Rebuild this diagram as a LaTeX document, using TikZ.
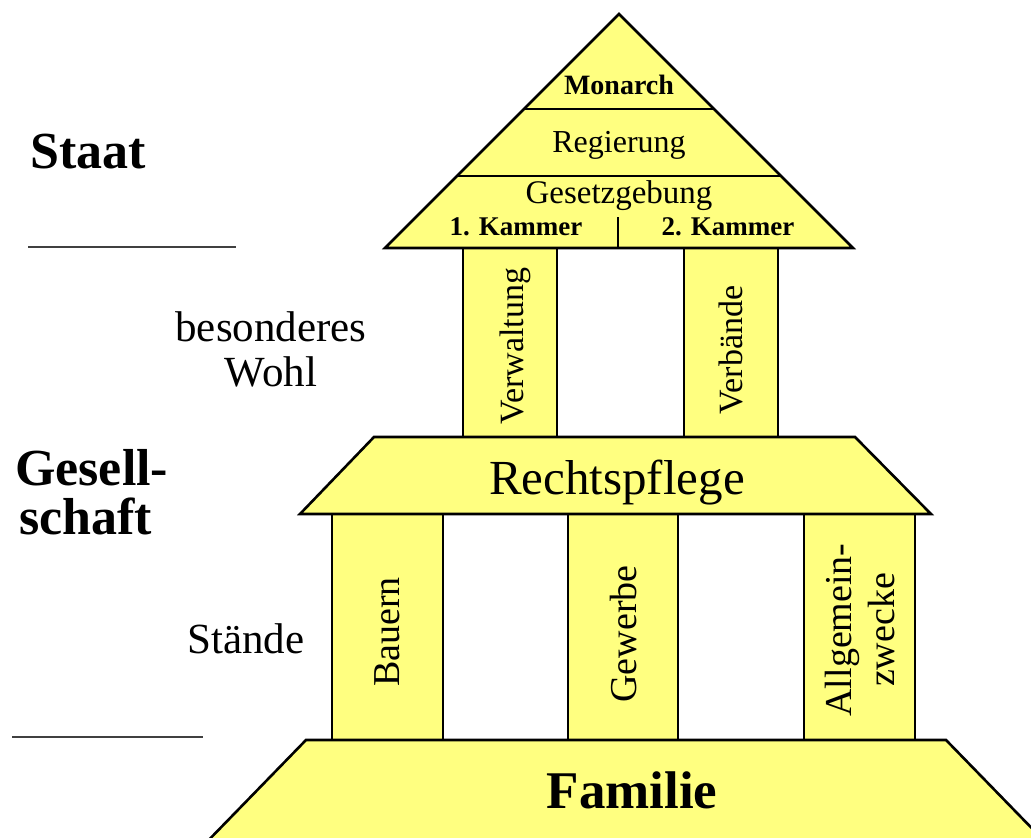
\documentclass[tikz,border=0pt]{standalone}
\usepackage{fontspec}
\setmainfont{Liberation Serif}
\usepackage{tikz}
\usetikzlibrary{calc,positioning}
\definecolor{hegelgelb}{RGB}{255,255,128}

\begin{document}
\begin{tikzpicture}[x=1pt, y=-1pt,
  bauteil/.style={draw=black, fill=hegelgelb, line width=2.6pt, line join=miter},
  trenner/.style={draw=black!75, line width=2pt},
  schrift/.style={inner sep=0pt, font=\fontsize{#1}{#1}\selectfont},
  fett/.style={inner sep=0pt, font=\bfseries\fontsize{#1}{#1}\selectfont},
  saeule/.style={rotate=90, inner sep=0pt, align=center,
    font=\fontsize{38}{43}\selectfont},
  ]
  \useasboundingbox (0,0) rectangle (1031,838);
  \clip (0,0) rectangle (1031,838);

  % Beschriftung links
  \node[fett=52, anchor=base west] (staat) at (30,168) {Staat};
  \draw[trenner] (28,247) -- (236,247);
  \node[schrift=43, align=center, font=\fontsize{43}{45}\selectfont] (wohl) at (271,349) {besonderes\\Wohl};
  \node[fett=52, anchor=base west] (gesell) at (15,485) {Gesell-};
  \node[fett=52, anchor=base west] (schaft) at (19,534) {schaft};
  \node[schrift=43, anchor=base] (staende) at (246,653) {Stände};
  \draw[trenner] (12,737) -- (203,737);

  % obere Saeulen
  \draw[bauteil] (463,248) rectangle (557,437);
  \draw[bauteil] (684,248) rectangle (778,437);
  \node[saeule, font=\fontsize{34}{36}\selectfont] (verwaltung) at (515,346) {Verwaltung};
  \node[saeule, font=\fontsize{34}{36}\selectfont] (verbaende) at (731,350) {Verbände};

  % untere Saeulen
  \draw[bauteil] (332,514) rectangle (443,740);
  \draw[bauteil] (568,514) rectangle (678,740);
  \draw[bauteil] (804,514) rectangle (915,740);
  \node[saeule] (bauern) at (387,632) {Bauern};
  \node[saeule] (gewerbe) at (623,634) {Gewerbe};
  \node[saeule] (allgemein) at (860,630) {Allgemein-\\zwecke};

  % Giebel (Staat)
  \coordinate (spitze) at (619,14);
  \coordinate (basisl) at (385,248);
  \coordinate (basisr) at (853,248);
  \draw[bauteil] (basisl) -- (spitze) -- (basisr) -- cycle;
  \draw[line width=2.6pt] ($(spitze)!0.406!(basisl)$) -- ($(spitze)!0.406!(basisr)$);
  \draw[line width=2.6pt] ($(spitze)!0.692!(basisl)$) -- ($(spitze)!0.692!(basisr)$);
  \coordinate (kammertop) at (618,217);
  \draw[line width=2.6pt] (kammertop) -- (kammertop |- basisl);
  \node[fett=28, anchor=base] (monarch) at (619,94) {Monarch};
  \node[schrift=32, anchor=base] (regierung) at (619,152) {Regierung};
  \node[schrift=33, anchor=base] (gesetz) at (619,203) {Gesetzgebung};
  \node[fett=27, anchor=base] (kammer1) at (516,235) {1. Kammer};
  \node[fett=27, anchor=base] (kammer2) at (728,235) {2. Kammer};

  % Rechtspflege
  \draw[bauteil] (374,437) -- (855,437) -- (931,514) -- (300,514) -- cycle;
  \node[schrift=49, anchor=base] (recht) at (617,494) {Rechtspflege};

  % Familie
  \draw[bauteil] (306,740) -- (946,740) -- (1053,850) -- (199,850) -- cycle;
  \node[fett=53, anchor=base] (familie) at (632,808) {Familie};
\end{tikzpicture}
\end{document}
